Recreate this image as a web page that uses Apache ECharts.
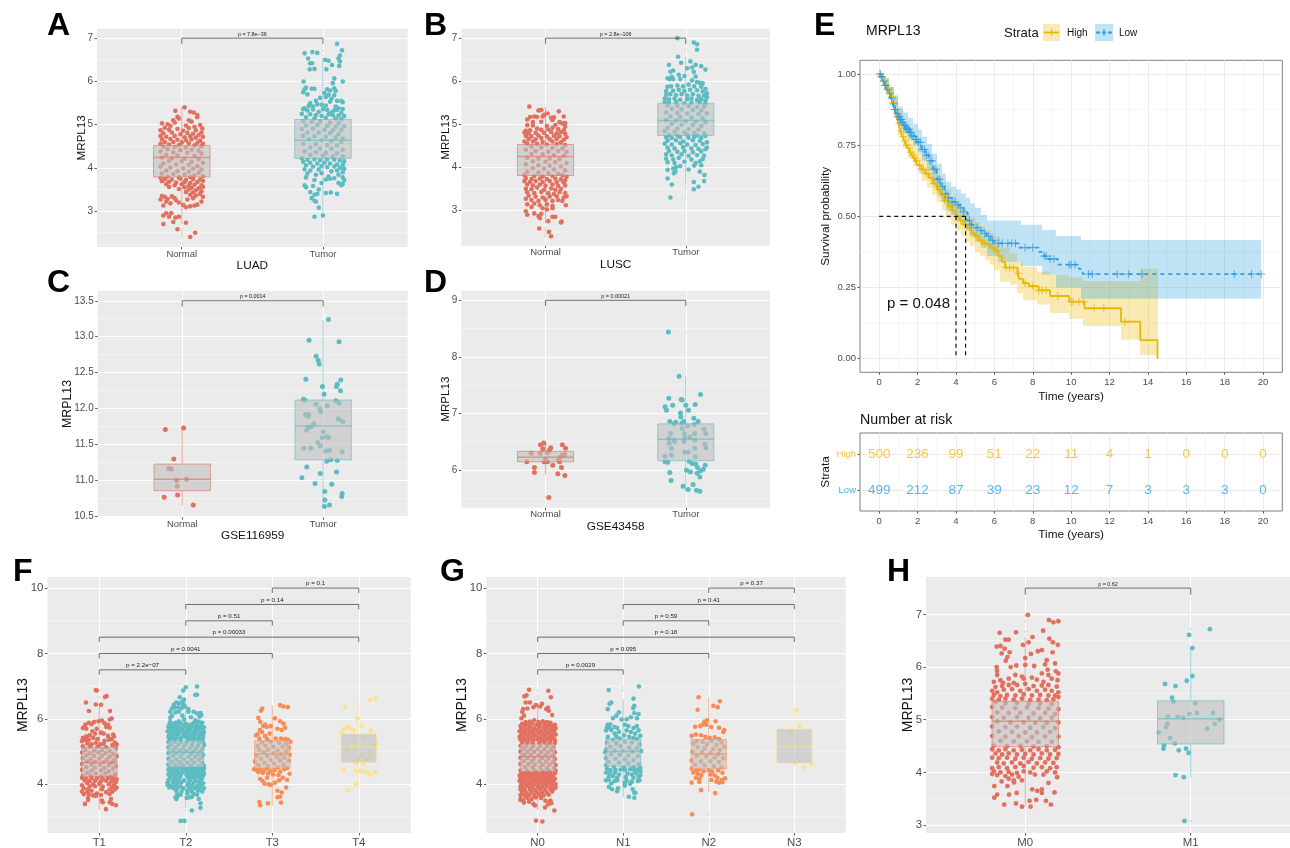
<!DOCTYPE html>
<html>
<head>
<meta charset="utf-8">
<style>
  html, body { margin: 0; padding: 0; background: #fff; }
  #main { width: 1290px; height: 848px; }
</style>
<script src="https://cdn.jsdelivr.net/npm/echarts@6/dist/echarts.min.js"></script>
</head>
<body>
<div id="main"></div>
<script>
// groups are flat lists: jitter from the category, value, jitter, value ...
const luadNormal = [
-.045,5.32,.02,5.4,.06,5.3,.085,5.28,.11,5.22,.11,5.17,-.03,5.18,-.06,5.1,-.14,5.03,-.1,5.01,.05,5.1,.07,5.07,.13,4.99,.146,4.91,-.02,5.14,-.05,5.05,.03,4.98,-.08,4.97,-.12,4.93,.09,4.95,
-.15,4.87,-.09,4.88,-.03,4.9,.01,4.86,.05,4.92,.1,4.87,.14,4.82,-.13,4.8,-.07,4.82,-.01,4.78,.04,4.81,.08,4.79,.12,4.76,.15,4.72,-.15,4.74,-.11,4.72,-.05,4.74,.02,4.71,.06,4.73,.1,4.7,
-.14,4.66,-.08,4.67,-.03,4.65,.03,4.64,.07,4.66,.13,4.63,-.12,4.6,-.06,4.6,0,4.59,.05,4.57,.11,4.58,.15,4.56,-.15,4.56,-.09,4.54,-.02,4.53,.09,4.52,.14,4.5,-.13,4.49,-.05,4.48,.03,4.47,
-.1,4.43,-.01,4.41,.07,4.42,.12,4.4,-.15,4.38,-.06,4.36,.04,4.35,.14,4.33,-.11,4.3,-.03,4.29,.09,4.28,-.14,4.24,-.07,4.22,.02,4.21,.12,4.2,-.09,4.16,0,4.15,.07,4.14,.15,4.12,-.13,4.1,
-.04,4.08,.05,4.07,.11,4.04,-.15,4.03,-.08,4.01,.01,3.99,.08,3.98,.14,3.96,-.11,3.94,-.03,3.92,.05,3.91,.12,3.89,-.14,3.87,-.06,3.86,.02,3.84,.09,3.83,.15,3.81,-.1,3.8,-.02,3.78,.06,3.79,
-.15,3.77,-.12,3.74,-.07,3.73,-.01,3.75,.03,3.72,.08,3.74,.13,3.73,.15,3.7,-.14,3.69,-.09,3.68,-.04,3.66,.02,3.67,.06,3.65,.11,3.67,-.11,3.62,-.05,3.6,0,3.62,.05,3.59,.09,3.61,.14,3.6,
-.09,3.56,.02,3.55,.07,3.54,.12,3.53,.15,3.56,-.02,3.51,.05,3.5,.1,3.48,.14,3.46,.03,3.44,.08,3.43,.13,3.4,-.14,3.35,-.12,3.33,-.07,3.34,.06,3.38,.1,3.36,.15,3.33,-.1,3.28,-.05,3.3,
-.15,3.27,-.11,3.22,-.08,3.18,-.04,3.25,.04,3.27,.08,3.3,.14,3.22,-.13,3.13,-.02,3.2,.01,3.14,.03,3.09,.06,3.11,.09,3.13,.11,3.15,-.11,2.95,-.075,2.95,-.13,2.9,-.09,2.87,-.045,2.85,-.02,2.87,
-.06,2.75,.03,2.73,-.13,2.7,-.03,2.58,.095,2.5,.06,2.4];
const luadTumor = [
.1,6.87,.135,6.72,.12,6.6,-.13,6.65,-.075,6.68,-.04,6.66,-.105,6.53,.04,6.48,.016,6.5,.11,6.53,.12,6.46,-.09,6.42,-.077,6.42,.064,6.38,.115,6.36,-.094,6.28,-.06,6.29,.024,6.28,.08,6.07,.14,6,
-.137,6,.07,5.96,-.13,5.82,-.12,5.86,-.08,5.83,-.06,5.83,.03,5.82,.05,5.79,.08,5.84,.09,5.78,-.14,5.75,-.11,5.7,.01,5.73,.04,5.69,.02,5.64,.08,5.68,.13,5.55,.14,5.52,.06,5.6,-.02,5.62,
-.05,5.55,-.09,5.5,.1,5.55,.05,5.53,-.13,5.38,-.1,5.44,-.07,5.42,-.04,5.47,-.01,5.46,.02,5.44,.09,5.42,.11,5.38,.14,5.36,-.14,5.36,-.11,5.33,-.07,5.35,-.03,5.3,0,5.36,.03,5.34,.06,5.28,
.08,5.33,.1,5.34,.13,5.27,-.15,5.25,-.09,5.24,-.05,5.22,-.01,5.2,.04,5.24,.07,5.22,.11,5.21,.15,5.2,-.12,5.17,-.06,5.15,.02,5.16,.09,5.14,.13,5.13,-.14,5.08,-.08,5.06,-.02,5.07,.05,5.05,
.11,5.03,-.12,4.98,-.04,4.99,.03,4.97,.09,4.95,.15,4.96,-.15,4.9,-.07,4.91,.01,4.88,.07,4.87,.13,4.88,-.11,4.82,-.03,4.82,.05,4.8,.11,4.78,-.14,4.74,-.06,4.73,.02,4.72,.09,4.7,.14,4.68,
-.1,4.66,-.01,4.64,.06,4.62,.13,4.6,-.14,4.56,-.05,4.55,.03,4.53,.1,4.52,-.09,4.47,-.02,4.45,.06,4.44,.14,4.42,-.13,4.38,-.05,4.36,.02,4.35,.1,4.34,-.09,4.3,0,4.28,.07,4.26,.14,4.27,
-.15,4.22,-.11,4.19,-.06,4.2,-.02,4.18,.03,4.2,.08,4.19,.12,4.17,.15,4.15,-.14,4.14,-.09,4.12,-.04,4.1,.01,4.12,.05,4.1,.1,4.08,.14,4.07,-.12,4.06,-.07,4.03,-.01,4.04,.03,4.02,.08,4.03,
.12,4,.15,3.98,-.13,3.97,-.09,3.94,-.03,3.96,.06,3.92,.1,3.94,.14,3.9,-.11,3.87,-.05,3.84,-.01,3.88,.04,3.8,.08,3.76,.11,3.84,.14,3.78,.15,3.72,-.12,3.78,-.06,3.72,-.01,3.65,.02,3.73,
.05,3.75,.11,3.65,.13,3.6,.14,3.63,-.13,3.6,-.12,3.55,-.07,3.58,-.03,3.5,-.09,3.44,-.06,3.38,-.04,3.4,.055,3.43,.1,3.4,.02,3.42,-.08,3.3,-.06,3.24,-.05,3.22,-.03,3.08,-.06,2.87,0,2.9];
const luscNormal = [
-.115,5.41,-.05,5.32,-.04,5.33,-.03,5.33,.095,5.3,.015,5.25,-.01,5.22,.04,5.15,.06,5.16,.13,5.18,-.13,5.11,-.11,5.17,-.08,5.18,-.06,5.17,-.02,5.18,.05,5.1,.1,5.05,.14,5.03,.12,5.02,-.09,5.05,
-.03,5.06,-.13,4.98,-.09,4.97,.01,4.96,.07,4.98,.14,4.94,-.14,4.85,-.11,4.86,-.06,4.9,-.03,4.87,.02,4.88,.05,4.92,.09,4.89,.13,4.86,-.15,4.81,-.12,4.79,-.07,4.8,-.01,4.8,.04,4.82,.08,4.79,
.11,4.82,.14,4.78,-.14,4.73,-.1,4.72,-.05,4.74,.01,4.72,.06,4.73,.1,4.72,.15,4.7,-.12,4.66,-.07,4.65,-.03,4.68,.03,4.65,.08,4.66,.13,4.64,-.15,4.6,-.09,4.6,-.02,4.59,.05,4.6,.11,4.58,
-.13,4.55,-.06,4.54,.01,4.53,.08,4.54,.14,4.52,-.1,4.48,-.03,4.46,.05,4.45,.12,4.44,-.14,4.41,-.07,4.38,.02,4.36,.09,4.38,.15,4.36,-.1,4.31,-.02,4.3,.06,4.28,.13,4.27,-.13,4.22,-.05,4.2,
.03,4.2,.1,4.19,-.09,4.14,0,4.13,.07,4.12,.15,4.1,-.14,4.07,-.05,4.05,.03,4.04,.11,4.02,-.09,3.98,-.01,3.97,.06,3.95,.14,3.93,-.13,3.9,-.05,3.88,.02,3.87,.09,3.85,-.15,3.82,-.08,3.8,
-.02,3.79,.05,3.8,.12,3.82,.15,3.78,-.14,3.75,-.1,3.73,-.04,3.74,.01,3.73,.07,3.74,.11,3.72,.14,3.7,-.15,3.68,-.11,3.66,-.07,3.68,-.02,3.66,.03,3.68,.08,3.66,.13,3.65,-.13,3.6,-.09,3.58,
-.04,3.6,0,3.57,.05,3.6,.09,3.57,.14,3.58,-.14,3.5,-.1,3.49,-.06,3.53,-.01,3.48,.04,3.51,.07,3.48,.11,3.5,-.13,3.42,-.08,3.4,-.03,3.43,.02,3.4,.06,3.38,.1,3.42,.14,3.4,.15,3.33,
-.12,3.34,-.07,3.32,-.02,3.3,.03,3.32,.08,3.33,.13,3.3,-.14,3.27,-.1,3.24,-.05,3.22,0,3.25,.05,3.22,.09,3.24,.12,3.22,-.13,3.14,-.08,3.16,-.04,3.12,.01,3.14,.05,3.1,.145,3.12,-.1,3.08,
-.02,3.05,.01,3.02,.05,3.05,-.14,2.98,-.13,2.9,-.08,2.93,-.03,2.92,-.05,2.87,.05,2.85,.07,2.85,.11,2.72,.115,2.74,.02,2.75,-.04,2.82,-.045,2.58,.025,2.5,.04,2.4];
const luscTumor = [
-.06,7,.057,6.9,.08,6.86,.08,6.73,-.055,6.57,-.033,6.43,-.12,6.38,.033,6.46,.07,6.38,.11,6.35,.01,6.3,.045,6.32,.14,6.27,-.11,6.22,-.09,6.25,.057,6.22,-.13,6.07,-.115,6.05,-.05,6.15,.07,6.11,
-.1,6.1,-.09,6.05,-.04,6.05,-.01,6.12,.045,6.02,.1,5.96,.12,5.95,.08,5.98,-.13,5.87,-.105,5.88,-.06,5.9,-.02,5.88,.02,5.92,.06,5.88,.11,5.87,.14,5.82,-.14,5.77,-.09,5.78,-.05,5.8,-.01,5.77,
.03,5.8,.08,5.79,.12,5.76,.15,5.72,-.14,5.68,-.11,5.7,-.07,5.68,-.03,5.7,.01,5.67,.05,5.7,.09,5.66,.13,5.67,.15,5.63,-.15,5.6,-.12,5.58,-.08,5.6,-.04,5.57,.01,5.58,.04,5.6,.08,5.56,
.11,5.59,.14,5.55,-.15,5.52,-.12,5.5,-.07,5.52,-.01,5.49,.04,5.5,.1,5.51,.14,5.48,-.13,5.44,-.06,5.43,.02,5.42,.08,5.4,.13,5.41,-.1,5.36,-.03,5.35,.05,5.33,.11,5.32,-.14,5.28,-.06,5.26,
.01,5.25,.09,5.24,.15,5.25,-.11,5.18,-.04,5.17,.04,5.16,.12,5.14,-.14,5.1,-.07,5.08,0,5.07,.07,5.06,.14,5.05,-.1,5.01,-.03,4.99,.05,4.98,.11,4.96,-.13,4.92,-.06,4.9,.02,4.89,.09,4.88,
-.15,4.84,-.08,4.82,-.01,4.81,.06,4.8,.13,4.79,-.12,4.75,-.06,4.74,.01,4.76,.08,4.74,.14,4.73,-.14,4.7,-.1,4.68,-.04,4.7,.02,4.69,.06,4.71,.11,4.68,-.13,4.62,-.07,4.63,-.02,4.6,.05,4.63,
.1,4.62,.15,4.58,-.15,4.55,-.1,4.53,-.04,4.56,.01,4.53,.07,4.52,.12,4.54,-.13,4.46,-.08,4.44,-.02,4.47,.04,4.44,.09,4.43,.15,4.46,.14,4.42,-.12,4.38,-.06,4.36,-.01,4.38,.05,4.35,.11,4.37,
-.14,4.3,-.1,4.28,-.03,4.3,.02,4.27,.08,4.28,.13,4.27,-.14,4.2,-.09,4.18,-.05,4.22,.04,4.18,.12,4.19,-.13,4.12,-.08,4.1,-.01,4.13,.07,4.1,.1,4.14,.11,4.05,.06,4.04,-.07,4,-.04,4.03,-.09,3.97,
-.13,3.94,-.085,3.86,-.074,3.9,.02,3.95,.1,3.9,-.13,3.74,-.1,3.6,.057,3.66,.057,3.49,.09,3.55,.13,3.68,.133,3.82,-.11,3.3];
const gseNormal = [
-.12,11.71,.01,11.73,-.06,11.3,-.095,11.17,-.078,11.16,-.04,11,.03,11.02,-.035,10.92,-.033,10.8,-.128,10.77,.078,10.66];
const gseTumor = [
.038,13.24,-.1,12.95,.113,12.93,-.05,12.73,-.035,12.67,-.028,12.62,-.123,12.41,.125,12.4,.1,12.34,.095,12.31,-.005,12.31,.123,12.25,.007,12.2,-.14,12.13,-.13,12.12,.09,12.11,.113,12.08,-.052,12.06,.03,12.04,-.024,12,
-.017,11.96,-.125,11.92,-.104,11.92,-.106,11.89,.106,11.86,.113,11.85,.14,11.82,-.066,11.79,-.085,11.75,-.106,11.74,-.118,11.7,0,11.68,-.007,11.6,.024,11.61,.038,11.6,-.038,11.53,-.019,11.48,-.137,11.45,-.087,11.45,.019,11.41,
.045,11.42,.135,11.4,.026,11.27,.054,11.29,.1,11.28,-.116,11.19,-.021,11.1,.095,11.12,-.151,11.04,-.057,10.96,.061,10.95,.012,10.85,.135,10.82,.132,10.78,.012,10.73,.009,10.64,.045,10.66];
const gse2Normal = [
-.012,6.48,-.036,6.45,.12,6.45,.143,6.39,.038,6.4,.029,6.36,-.019,6.38,-.102,6.3,-.038,6.3,.014,6.31,.136,6.28,.119,6.27,.105,6.23,.093,6.18,-.133,6.15,0,6.19,-.01,6.15,.014,6.15,.1,6.15,.052,6.09,
.114,6.05,-.079,6.05,-.079,5.96,.088,5.94,.138,5.91,.024,5.52];
const gse2Tumor = [
-.124,8.44,-.048,7.66,.105,7.34,-.121,7.27,-.033,7.25,-.026,7.24,.067,7.16,-.093,7.15,0,7.15,-.148,7.12,-.138,7.06,.019,7.06,-.038,7.01,.057,6.92,-.036,6.94,-.114,6.86,-.071,6.85,.088,6.86,-.014,6.86,-.029,6.83,
-.083,6.82,.06,6.81,.012,6.78,.129,6.73,-.026,6.74,-.01,6.65,-.107,6.65,.064,6.65,.143,6.65,-.121,6.56,-.007,6.59,.029,6.59,-.083,6.53,-.079,6.51,.064,6.53,-.012,6.51,-.119,6.48,.136,6.46,.143,6.4,-.102,6.39,
-.007,6.32,.017,6.32,.064,6.39,-.102,6.27,-.148,6.25,.067,6.24,-.148,6.15,-.129,6.14,.024,6.16,.045,6.12,.071,6.11,.138,6.09,.083,6.05,.124,6.02,.005,6,.033,5.97,.105,5.99,.081,5.95,-.114,5.96,.1,5.88,
-.105,5.82,.052,5.75,-.019,5.72,.017,5.66,.076,5.65,.1,5.63];
const t1Group = [
-.04,6.88,-.03,6.87,.085,6.7,.066,6.67,-.154,6.5,-.04,6.44,.02,6.43,-.12,6.24,.124,6.24,.143,6.01,.12,5.98,-.01,5.93,-.06,5.91,.03,5.95,-.16,5.83,-.17,5.76,-.12,5.88,-.09,5.84,.06,5.87,.1,5.82,
-.19,5.72,-.15,5.7,.08,5.75,.12,5.73,-.03,5.7,-.08,5.62,.02,5.58,.05,5.55,.16,5.52,.17,5.46,-.19,5.42,-.15,5.47,-.11,5.5,-.05,5.55,.1,5.48,.14,5.38,-.2,5.32,-.16,5.36,-.12,5.36,-.07,5.42,
-.02,5.38,.06,5.33,.11,5.36,.18,5.28,.2,5.22,-.14,5.25,-.09,5.22,-.04,5.27,.01,5.22,.05,5.24,.15,5.2,-.19,5.16,-.11,5.14,-.02,5.15,.08,5.13,.19,5.1,-.16,5.05,-.06,5.03,.03,5.05,.12,5.02,
-.2,4.97,-.11,4.95,-.01,4.97,.07,4.95,.16,4.93,-.15,4.88,-.06,4.87,.03,4.87,.12,4.85,.2,4.86,-.19,4.8,-.1,4.77,0,4.78,.09,4.76,.17,4.74,-.14,4.7,-.05,4.69,.05,4.68,.14,4.66,-.2,4.62,
-.09,4.6,.01,4.59,.11,4.58,.19,4.56,-.15,4.52,-.05,4.51,.06,4.5,.16,4.48,-.2,4.44,-.09,4.42,.02,4.42,.11,4.4,-.14,4.35,-.04,4.33,.07,4.33,.18,4.31,-.19,4.27,-.1,4.26,.02,4.25,.13,4.24,
-.2,4.2,-.15,4.17,-.09,4.19,-.03,4.18,.04,4.17,.1,4.19,.16,4.17,.2,4.15,-.17,4.12,-.11,4.1,-.05,4.11,.02,4.09,.08,4.11,.14,4.09,.19,4.06,-.14,4.03,-.07,4.01,0,4.02,.11,4,.17,3.98,
-.2,3.97,-.11,3.94,-.05,3.94,.04,3.93,.15,3.92,.2,3.9,-.18,3.88,-.13,3.85,.03,3.85,.12,3.84,.18,3.84,-.2,3.78,-.14,3.76,-.09,3.8,-.03,3.72,.08,3.76,.15,3.77,-.18,3.7,-.12,3.68,-.07,3.66,
-.04,3.64,.02,3.67,.12,3.7,-.13,3.58,-.166,3.4,-.13,3.52,.077,3.24,.193,3.36,.12,3.45,.04,3.45,.135,3.55,.03,3.5,.15,3.4];
const t2Group = [
.13,6.99,0,6.97,-.03,6.87,.11,6.74,.13,6.74,-.07,6.66,-.02,6.59,-.14,6.43,-.04,6.53,-.11,6.5,-.08,6.48,-.03,6.45,-.13,6.35,-.16,6.32,-.09,6.35,-.05,6.33,-.01,6.38,.03,6.3,-.18,6.22,-.12,6.2,
-.08,6.22,.03,6.22,.09,6.22,.17,6.18,.13,6.17,-.18,6.03,-.16,6.1,-.04,6.1,.06,6.05,.16,6.07,.18,6.12,-.02,5.98,-.12,5.88,-.18,5.9,-.08,5.93,.11,5.96,.15,5.92,.19,5.88,-.19,5.83,-.15,5.84,
-.1,5.82,-.05,5.86,0,5.85,.05,5.82,.09,5.87,.13,5.84,.18,5.8,-.2,5.76,-.16,5.75,-.12,5.78,-.07,5.74,-.02,5.77,.03,5.74,.07,5.77,.12,5.76,.16,5.74,.21,5.74,-.19,5.68,-.14,5.67,-.09,5.69,
-.04,5.67,.01,5.66,.05,5.68,.1,5.66,.14,5.68,.19,5.66,-.21,5.62,-.17,5.6,-.12,5.6,-.07,5.61,-.02,5.58,.03,5.6,.08,5.58,.12,5.6,.17,5.58,.21,5.6,-.19,5.53,-.14,5.52,-.09,5.53,-.03,5.5,
.02,5.52,.06,5.5,.11,5.52,.16,5.5,.2,5.52,-.2,5.45,-.16,5.44,-.1,5.45,-.05,5.43,0,5.45,.05,5.42,.1,5.44,.15,5.43,.2,5.44,-.18,5.38,-.12,5.38,-.06,5.37,.03,5.37,.09,5.38,.14,5.36,.19,5.37,
-.2,5.3,-.13,5.3,-.06,5.28,.01,5.27,.08,5.28,.15,5.27,.2,5.28,-.17,5.21,-.09,5.2,-.01,5.2,.07,5.19,.14,5.18,.21,5.2,-.2,5.13,-.12,5.12,-.03,5.11,.05,5.11,.12,5.1,.19,5.09,-.15,5.04,
-.07,5.03,.01,5.02,.09,5.01,.17,5,-.2,4.96,-.11,4.94,-.03,4.94,.06,4.93,.14,4.92,.2,4.9,-.15,4.87,-.06,4.85,.03,4.84,.11,4.84,.18,4.82,-.2,4.78,-.11,4.76,-.02,4.76,.07,4.75,.15,4.74,
-.16,4.69,-.07,4.67,.02,4.66,.1,4.66,.19,4.65,-.2,4.6,-.12,4.59,-.03,4.58,.06,4.58,.15,4.56,.21,4.56,-.18,4.52,-.13,4.49,-.08,4.51,-.03,4.5,.02,4.49,.07,4.51,.12,4.49,.17,4.5,.21,4.48,
-.2,4.45,-.15,4.43,-.1,4.44,-.04,4.42,.01,4.44,.05,4.42,.1,4.43,.15,4.41,.2,4.42,-.19,4.37,-.13,4.35,-.08,4.37,-.03,4.36,.03,4.35,.08,4.36,.13,4.34,.18,4.36,.21,4.33,-.2,4.29,-.16,4.28,
-.11,4.29,-.06,4.27,.01,4.28,.06,4.26,.11,4.28,.16,4.26,.2,4.27,-.18,4.21,-.12,4.2,-.07,4.21,.03,4.2,.09,4.19,.14,4.21,.19,4.19,-.2,4.13,-.14,4.12,-.09,4.14,-.02,4.12,.05,4.13,.11,4.11,
.17,4.12,-.21,4.05,-.15,4.06,-.1,4.03,-.05,4.06,.03,4.05,.09,4.04,.15,4.05,.2,4.03,-.21,3.98,-.17,3.95,-.12,3.97,-.06,3.94,.02,3.96,.07,3.97,.13,3.94,.18,3.96,-.19,3.9,-.14,3.88,-.09,3.9,
-.03,3.88,.05,3.87,.1,3.88,.16,3.86,.21,3.88,-.11,3.8,-.05,3.78,.02,3.81,.07,3.78,.14,3.8,.19,3.78,-.1,3.7,-.06,3.68,.02,3.72,.09,3.71,.13,3.68,-.11,3.55,-.1,3.62,-.12,3.6,.01,3.58,.05,3.6,
.07,3.62,.15,3.55,.17,3.42,.17,3.28,.07,3.2,-.06,2.88,-.015,2.88];
const t3Group = [
.09,6.42,.127,6.38,.18,6.36,-.116,6.32,-.131,6.25,-.162,6.03,-.139,5.91,-.085,5.83,-.066,5.75,-.104,5.78,.147,5.73,.108,5.66,-.143,5.66,-.17,5.53,-.189,5.5,-.085,5.48,.03,6.02,.09,5.93,.13,5.86,-.02,5.78,
.06,5.7,-.12,5.6,-.03,5.55,.1,5.4,.15,5.38,.18,5.36,.04,5.4,-.06,5.38,-.15,5.4,.21,5.3,-.12,5.28,-.02,5.3,.08,5.27,.16,5.25,-.17,5.17,-.08,5.18,.01,5.15,.12,5.15,.19,5.12,-.15,5.05,
-.05,5.06,.06,5.03,.16,5,-.1,4.98,.01,4.95,.1,4.92,.2,4.9,-.18,4.88,-.06,4.87,.05,4.83,.14,4.82,-.13,4.78,-.02,4.75,.09,4.73,.19,4.72,-.2,4.7,-.09,4.66,.02,4.63,.13,4.6,-.16,4.58,-.05,4.55,
.07,4.52,.17,4.5,-.21,4.46,-.18,4.43,-.14,4.45,-.1,4.42,-.06,4.48,-.02,4.4,.03,4.44,.09,4.38,.14,4.46,-.16,4.37,-.11,4.35,-.05,4.33,.01,4.3,.07,4.28,.2,4.32,.12,4.2,.17,4.14,-.14,4.16,
-.11,4.1,-.09,4.02,-.04,4,-.02,3.98,.03,4.05,.08,4.12,.16,3.9,-.06,4.2,.06,3.8,.11,3.75,.06,3.6,.09,3.62,.1,3.44,-.15,3.46,-.14,3.36,-.05,3.42];
const t4Group = [
-.158,6.37,.131,6.58,.197,6.62,-.015,6.01,.031,5.79,.139,5.65,-.124,5.76,-.178,5.68,-.1,5.71,-.054,5.65,-.197,5.58,.054,5.43,-.062,5.3,.208,5.23,.17,5.18,-.139,5.08,-.046,5.06,.131,4.93,.035,4.88,-.139,4.98,
-.008,4.78,.093,4.77,-.03,4.65,.054,4.62,-.178,4.44,-.039,4.41,.015,4.41,.069,4.39,.112,4.35,.131,4.29,.189,4.37,-.039,4,-.12,3.82];
const n0Group = [
-.1,6.89,.125,6.86,.155,6.66,-.13,6.72,-.155,6.69,-.09,6.5,-.14,6.5,-.02,6.42,.05,6.46,-.17,6.3,.1,6.3,.13,6.25,.12,6.35,-.18,6.22,-.12,6.32,.03,6.38,-.05,6.36,.17,6.12,-.16,6.1,-.19,6.02,
-.18,5.85,-.14,5.9,-.09,5.92,-.04,5.96,.01,5.9,.06,5.93,.11,5.9,.15,5.88,.2,5.82,-.2,5.78,-.15,5.8,-.11,5.82,-.06,5.85,-.01,5.82,.03,5.84,.08,5.83,.13,5.8,.18,5.78,.21,5.72,-.19,5.7,-.14,5.72,
-.09,5.74,-.04,5.72,.02,5.74,.07,5.72,.11,5.74,.16,5.7,.2,5.68,-.21,5.62,-.16,5.62,-.11,5.64,-.06,5.63,-.01,5.65,.04,5.62,.09,5.64,.14,5.62,.19,5.6,-.19,5.54,-.14,5.54,-.09,5.55,-.04,5.53,
.01,5.56,.06,5.53,.11,5.55,.16,5.52,.21,5.52,-.21,5.45,-.17,5.44,-.12,5.46,-.07,5.44,-.02,5.46,.03,5.44,.08,5.46,.13,5.43,.18,5.44,-.2,5.37,-.15,5.36,-.1,5.37,-.05,5.35,0,5.37,.05,5.35,
.1,5.37,.15,5.35,.2,5.35,-.18,5.28,-.12,5.28,-.06,5.27,.02,5.28,.08,5.27,.14,5.26,.2,5.26,-.2,5.18,-.13,5.18,-.05,5.17,.03,5.17,.11,5.16,.18,5.15,-.16,5.09,-.08,5.08,0,5.08,.08,5.07,
.16,5.06,-.2,5,-.12,4.99,-.04,4.99,.04,4.98,.12,4.97,.2,4.98,-.16,4.9,-.08,4.9,.01,4.89,.09,4.89,.17,4.88,-.2,4.81,-.12,4.8,-.04,4.79,.05,4.8,.13,4.79,.2,4.78,-.16,4.71,-.07,4.7,.02,4.7,
.1,4.7,.18,4.69,-.2,4.62,-.11,4.61,-.03,4.6,.06,4.6,.14,4.6,.21,4.59,-.15,4.52,-.06,4.51,.03,4.51,.11,4.5,.19,4.49,-.2,4.42,-.12,4.41,-.03,4.42,.06,4.41,.14,4.4,.21,4.41,-.19,4.35,-.15,4.33,
-.1,4.35,-.05,4.33,0,4.35,.05,4.33,.1,4.35,.15,4.33,.2,4.34,-.21,4.27,-.17,4.25,-.12,4.27,-.07,4.25,-.02,4.27,.03,4.25,.08,4.26,.13,4.25,.18,4.26,-.2,4.18,-.15,4.17,-.1,4.19,-.05,4.17,
0,4.18,.05,4.17,.1,4.18,.15,4.16,.2,4.17,-.21,4.1,-.17,4.08,-.12,4.1,-.07,4.08,-.02,4.1,.03,4.09,.08,4.1,.13,4.08,.18,4.09,-.19,4.01,-.14,4,-.09,4.02,-.04,4,.01,4.01,.06,4,.11,4.02,.16,4,
.21,4.01,-.2,3.93,-.16,3.91,-.11,3.93,-.06,3.91,0,3.92,.05,3.91,.1,3.93,.15,3.91,.2,3.92,-.2,3.84,-.15,3.83,-.09,3.84,-.03,3.82,.03,3.84,.09,3.83,.15,3.85,.19,3.87,.21,3.9,-.18,3.76,-.13,3.74,
-.07,3.76,-.01,3.75,.05,3.76,.11,3.74,.17,3.78,-.2,3.67,-.15,3.65,-.1,3.67,-.04,3.66,.02,3.68,.07,3.66,.13,3.68,-.2,3.55,-.17,3.52,-.12,3.58,-.07,3.55,-.02,3.6,.04,3.58,.09,3.5,-.16,3.44,
-.1,3.47,-.05,3.4,-.03,3.35,.14,3.47,.16,3.42,.12,3.38,.15,3.5,-.2,3.52,.086,3.29,.195,3.2,-.02,2.89,.055,2.86];
const n1Group = [
.183,6.99,-.17,6.88,.12,6.62,-.14,6.5,-.16,6.46,-.18,6.3,.13,6.4,.117,6.33,-.05,6.2,.18,6.15,.13,6.18,-.08,6.1,-.12,6.02,-.02,5.98,.04,5.99,.16,6.02,.09,6.05,-.18,5.82,-.19,5.75,-.16,5.73,
-.15,5.83,-.1,5.75,-.07,5.72,.02,5.82,.06,5.78,.12,5.72,.16,5.78,.18,5.65,-.2,5.65,-.14,5.66,-.05,5.6,.04,5.65,.09,5.6,-.1,5.55,.14,5.55,.2,5.48,-.18,5.45,-.08,5.46,.01,5.5,.07,5.45,.12,5.42,
-.12,5.36,-.04,5.4,.16,5.38,-.19,5.28,-.08,5.25,.02,5.3,.1,5.27,.19,5.22,-.15,5.15,-.03,5.16,.07,5.12,.16,5.1,-.2,5.06,-.1,5.03,0,5.02,.11,5,.21,5.02,-.21,4.98,-.14,4.92,-.04,4.9,.06,4.88,
.17,4.86,-.2,4.8,-.09,4.78,.02,4.76,.12,4.74,-.17,4.68,-.05,4.66,.06,4.64,.18,4.62,-.2,4.58,-.11,4.54,.01,4.52,.12,4.52,.2,4.5,-.19,4.48,-.15,4.43,-.09,4.44,-.03,4.45,.02,4.44,.08,4.46,
.13,4.42,.17,4.45,.2,4.4,-.2,4.36,-.16,4.33,-.1,4.35,-.05,4.3,.05,4.33,.1,4.3,.15,4.33,.2,4.28,-.17,4.22,-.12,4.25,-.07,4.2,.03,4.22,.12,4.2,.18,4.22,-.2,4.12,-.17,4.15,-.1,4.1,-.07,4.12,
.04,4.12,.1,4.08,.17,4.1,.19,4.12,-.14,4.03,.02,4.05,.08,4.02,.02,3.96,-.167,3.92,-.13,3.85,-.07,3.79,.13,3.59,.066,3.62,.144,3.74,-.06,3.88,.11,3.85,.13,3.74];
const n2Group = [
-.12,6.66,.13,6.54,.054,6.4,.105,6.36,-.13,6.28,-.02,5.96,-.05,5.92,.08,5.93,-.07,5.83,-.1,5.78,-.03,5.82,.12,5.73,-.16,5.76,.03,5.75,.18,5.66,.17,5.6,-.2,5.48,-.15,5.52,-.09,5.5,-.04,5.45,
.01,5.42,.07,5.44,.12,5.38,-.14,5.32,-.07,5.3,.03,5.33,.15,5.28,-.18,5.25,-.02,5.22,.09,5.2,.18,5.15,-.13,5.13,-.05,5.1,.05,5.08,.13,5.05,-.19,5,-.08,4.98,.02,4.95,.11,4.93,-.14,4.87,
-.03,4.85,.07,4.82,.17,4.8,-.2,4.73,-.09,4.7,.02,4.7,.12,4.68,-.16,4.6,-.05,4.58,.06,4.55,.15,4.52,-.2,4.48,-.15,4.42,-.11,4.45,-.06,4.4,0,4.43,.04,4.38,.11,4.42,.16,4.35,-.18,4.36,-.13,4.32,
-.09,4.28,.02,4.3,.07,4.27,.1,4.2,.15,4.13,.19,4.18,-.15,4.2,-.11,4.16,.03,4.13,.09,4.08,.12,4.05,.16,4.06,-.2,4.05,-.11,4.07,-.09,3.82,.074,3.73,-.195,3.08];
const n3Group = [
.023,6.27,.062,5.79,-.04,5.61,.054,5.13,.008,4.65,.198,4.62,.117,4.52];
const m0Group = [
.016,6.99,.143,6.89,.17,6.85,.2,6.87,-.155,6.65,-.056,6.66,.108,6.69,.044,6.57,-.12,6.52,-.1,6.52,.145,6.54,.167,6.47,.197,6.42,.02,6.47,-.014,6.42,-.173,6.39,-.15,6.4,-.125,6.35,-.094,6.28,-.143,6.26,
.034,6.25,.076,6.3,.1,6.32,.165,6.28,-.108,6.19,-.118,6.12,0,6.17,.13,6.13,.18,6.07,-.088,6,-.173,6,-.054,6.03,0,6.04,.054,6.02,.12,6.05,.135,5.95,-.17,5.93,-.06,5.85,-.02,5.82,.04,5.8,
.1,5.88,.14,5.85,.185,5.92,.2,5.88,-.17,5.85,-.19,5.72,-.15,5.75,-.135,5.7,-.1,5.78,-.07,5.7,-.01,5.78,.07,5.76,.11,5.72,.16,5.78,.195,5.75,-.18,5.62,-.14,5.64,-.1,5.66,-.05,5.66,0,5.68,
.05,5.64,.1,5.65,.14,5.66,.19,5.63,-.2,5.55,-.17,5.52,-.13,5.57,-.08,5.58,-.03,5.55,.02,5.58,.07,5.55,.12,5.57,.16,5.55,.2,5.52,-.19,5.47,-.15,5.45,-.11,5.47,-.06,5.46,-.01,5.48,.04,5.46,
.09,5.47,.14,5.46,.18,5.46,.2,5.43,-.2,5.4,-.16,5.38,-.12,5.4,-.07,5.38,-.02,5.4,.03,5.37,.08,5.38,.13,5.37,.17,5.39,-.18,5.33,-.12,5.31,-.05,5.32,.02,5.3,.09,5.31,.16,5.3,-.2,5.24,-.14,5.23,
-.06,5.22,.01,5.23,.08,5.22,.14,5.21,.2,5.2,-.17,5.14,-.1,5.13,-.03,5.13,.05,5.12,.12,5.13,.18,5.11,-.2,5.05,-.13,5.04,-.05,5.05,.02,5.04,.09,5.03,.16,5.04,-.17,4.97,-.09,4.95,-.01,4.95,
.06,4.94,.13,4.94,.2,4.95,-.2,4.87,-.12,4.86,-.05,4.87,.03,4.85,.11,4.86,.18,4.84,-.16,4.78,-.08,4.77,0,4.76,.07,4.76,.15,4.77,-.2,4.69,-.12,4.68,-.04,4.69,.04,4.67,.12,4.68,.2,4.68,-.15,4.6,
-.07,4.59,.01,4.59,.08,4.58,.16,4.58,-.19,4.51,-.11,4.5,-.03,4.51,.05,4.49,.13,4.5,.2,4.48,-.2,4.44,-.16,4.42,-.12,4.44,-.07,4.42,-.02,4.43,.03,4.42,.08,4.44,.13,4.42,.18,4.43,-.18,4.36,
-.14,4.34,-.1,4.36,-.05,4.34,0,4.35,.05,4.34,.1,4.36,.15,4.34,.2,4.35,-.2,4.28,-.16,4.27,-.11,4.28,-.06,4.26,-.01,4.28,.04,4.26,.09,4.27,.14,4.26,.19,4.27,-.17,4.19,-.13,4.17,-.08,4.19,
-.03,4.17,.02,4.2,.07,4.17,.12,4.19,.17,4.18,-.2,4.08,-.16,4.1,-.11,4.08,-.06,4.1,-.01,4.12,.05,4.09,.1,4.1,.15,4.08,.19,4.1,-.19,4.02,-.15,4,-.1,4.01,-.05,3.99,-.01,4.02,.03,4,.13,4.02,
.18,4,-.2,3.97,-.17,3.95,-.12,3.93,-.08,3.96,-.04,3.92,.058,3.96,.11,3.96,.193,3.91,-.1,3.88,-.07,3.85,-.02,3.85,-.143,3.83,-.068,3.81,.14,3.8,-.187,3.74,-.108,3.74,.042,3.68,.072,3.65,
.1,3.61,.177,3.62,-.098,3.58,-.052,3.61,-.17,3.58,-.187,3.52,.1,3.68,-.127,3.39,-.056,3.41,-.02,3.35,.032,3.35,.026,3.46,.066,3.48,.125,3.46,.155,3.39];
const m1Group = [
.116,6.72,-.01,6.61,.01,6.36,.01,5.83,-.024,5.74,-.155,5.68,-.092,5.64,-.113,5.42,-.104,5.34,.028,5.31,.038,5.13,.135,5.13,-.008,5.11,-.139,5.06,-.078,5.06,-.046,5.04,.173,5,-.141,4.92,.145,4.92,-.149,4.86,
.1,4.83,-.193,4.76,-.124,4.65,-.096,4.55,-.161,4.51,-.165,4.45,-.028,4.45,-.072,4.42,-.012,4.37,-.092,3.95,-.042,3.91,-.038,3.08];

// survival curves
const highTimes = [0,.1,.2,.3,.4,.5,.6,.7,.8,.9,1,1.1,1.2,1.3,1.4,1.5,1.6,1.7,1.8,1.9,2,2.2,2.4,2.6,2.8,3,3.2,3.4,3.6,3.8,4,4.2,4.4,4.6,4.8,5,5.2,5.4,5.6,5.8,6,6.2,6.4,6.55,7.2,7.3,7.5,7.8,8.3,8.9,9.9,10.7,12.6,13.6,14.5,14.5];
const highSurv = [1,.99,.975,.96,.95,.935,.92,.9,.875,.85,.825,.8,.78,.765,.75,.74,.725,.715,.705,.695,.68,.665,.65,.635,.615,.595,.575,.555,.535,.52,.5,.485,.47,.46,.44,.43,.415,.405,.4,.39,.38,.36,.34,.32,.3,.28,.265,.255,.24,.22,.2,.177,.13,.065,.065,0];
const lowTimes = [0,.1,.2,.3,.4,.5,.6,.7,.8,.9,1,1.1,1.2,1.3,1.4,1.5,1.6,1.7,1.8,1.9,2,2.2,2.4,2.6,2.8,3,3.2,3.4,3.6,3.8,4,4.2,4.4,4.6,4.8,5,5.2,5.4,5.6,5.8,6,7.25,8.3,8.6,8.8,9.3,10.4,10.6,20];
const lowSurv = [1,.99,.975,.96,.945,.93,.915,.895,.875,.86,.85,.84,.83,.82,.81,.805,.795,.785,.78,.77,.76,.735,.715,.695,.665,.63,.605,.58,.565,.55,.54,.53,.515,.485,.47,.46,.45,.44,.43,.415,.405,.39,.375,.36,.35,.33,.315,.297,.297];
const highBandTimes = [0,.25,.5,.75,1,1.25,1.5,1.75,2,2.25,2.5,2.75,3,3.25,3.5,3.75,4,4.25,4.5,4.75,5,5.25,5.5,5.75,6,6.3,6.8,7.2,7.5,8.2,8.9,9.9,10.6,12.6,13.6,14.5];
const highBandLower = [.99,.955,.915,.855,.785,.74,.705,.675,.65,.625,.6,.575,.55,.52,.495,.47,.45,.43,.41,.395,.375,.36,.345,.33,.31,.27,.26,.23,.205,.19,.16,.14,.115,.066,.013];
const highBandUpper = [1,.985,.955,.92,.875,.825,.79,.765,.74,.715,.695,.67,.64,.62,.595,.57,.55,.53,.515,.495,.48,.465,.45,.44,.43,.39,.37,.34,.323,.306,.294,.285,.273,.273,.316];
const lowBandTimes = [0,.25,.5,.75,1,1.25,1.5,1.75,2,2.25,2.5,2.75,3,3.25,3.5,3.75,4,4.25,4.5,4.75,5,5.3,5.6,6.2,7.4,8.5,9.2,10.5,19.9];
const lowBandLower = [.99,.95,.91,.865,.82,.79,.77,.75,.725,.695,.66,.62,.58,.55,.52,.505,.49,.47,.45,.43,.41,.39,.36,.34,.325,.295,.25,.21];
const lowBandUpper = [1,.985,.955,.925,.885,.865,.845,.825,.805,.78,.755,.72,.685,.65,.62,.605,.595,.58,.565,.545,.53,.505,.485,.485,.47,.452,.431,.417];
const highCensor = [.05,.15,.25,.35,.45,.55,.65,.75,.85,.95,1.05,1.15,1.25,1.35,1.45,1.55,1.65,1.75,1.85,1.95,2.1,2.2,2.3,2.45,2.55,2.7,2.85,2.95,3.1,3.25,3.4,3.55,3.7,3.85,4.05,4.25,4.45,4.7,4.9,5.1,5.3,5.5,5.75,5.95,6.1,6.6,6.8,7,7.25,7.6,8,8.3,8.5,8.7,9.3,10,10.1,10.4,10.65,11.2,11.7,12.8];
const lowCensor = [.05,.1,.15,.25,.3,.35,.45,.55,.65,.75,.8,.85,.95,1,1.05,1.1,1.15,1.2,1.25,1.3,1.35,1.4,1.45,1.5,1.55,1.6,1.65,1.7,1.8,1.9,1.95,2.05,2.15,2.25,2.35,2.45,2.55,2.65,2.75,2.85,2.95,3.05,3.15,3.3,3.45,3.6,3.8,3.95,4.1,4.25,4.4,4.7,4.8,5.1,5.3,5.5,5.7,5.9,6.2,6.4,6.7,6.9,7.1,7.6,8,8.6,8.7,8.9,9.1,9.9,10,10.2,10.9,11.1,12.4,13,13.7,18.5,19.4,19.9];
const medianTimes = [4,4.5];
const riskTimes = [0,2,4,6,8,10,12,14,16,18,20];
const riskHigh = [500,236,99,51,22,11,4,1,0,0,0];
const riskLow = [499,212,87,39,23,12,7,3,3,3,0];

const RED = '#E2705F', TEAL = '#5CBCC2', ORANGE = '#F98C55', YELLOW = '#FDE18C';
const HIGH = '#E7B800', LOW = '#2E9FDF';
const FONT = '"Liberation Sans", Arial, sans-serif';

// box values: low whisker, q1, median, q3, high whisker; extras are the faint outlier dots
const panels = [
  { left: 97, top: 28.7, width: 310.7, height: 218.3, yMin: 2.17, yMax: 7.22, yTicks: [3,4,5,6,7], yMinor: [2.5,3.5,4.5,5.5,6.5],
    names: ['Normal','Tumor'], xName: 'LUAD', nameGap: 1, labelMargin: 2, xFont: 9.5, yFont: 10, yNameFont: 11.6, yNameGap: 9, ptSize: 4.6, boxW: .4, pFont: 5.4, tip: .13,
    groups: [{ pts: luadNormal, color: RED, box: [2.7,3.79,4.24,4.52,5.4], extras: [2.6,2.55,2.5,2.45,2.4] },
             { pts: luadTumor, color: TEAL, box: [2.87,4.22,4.64,5.12,6.55], extras: [6.6,6.72] }],
    brackets: [[1,2,7,'p = 7.8e\u221236']] },
  { left: 461.3, top: 28.7, width: 308.7, height: 217, yMin: 2.18, yMax: 7.22, yTicks: [3,4,5,6,7], yMinor: [2.5,3.5,4.5,5.5,6.5],
    names: ['Normal','Tumor'], xName: 'LUSC', nameGap: 2, labelMargin: 2, xFont: 9.5, yFont: 10, yNameFont: 11.6, yNameGap: 10, ptSize: 4.6, boxW: .4, pFont: 5.4, tip: .13,
    groups: [{ pts: luscNormal, color: RED, box: [2.7,3.81,4.25,4.53,5.4], extras: [2.6,2.55,2.5,2.45,2.4] },
             { pts: luscTumor, color: TEAL, box: [3.6,4.74,5.09,5.49,6.57], extras: [6.9,6.73,3.55,3.5,3.3] }],
    brackets: [[1,2,7,'p = 2.8e\u2212106']] },
  { left: 97.7, top: 290.7, width: 310, height: 226.6, yMin: 10.49, yMax: 13.64, yTicks: [10.5,11,11.5,12,12.5,13,13.5], yMinor: [10.75,11.25,11.75,12.25,12.75,13.25], yFixed: 1,
    names: ['Normal','Tumor'], xName: 'GSE116959', nameGap: 3, labelMargin: 2, xFont: 9.5, yFont: 10, yNameFont: 12.4, yNameGap: 24, ptSize: 5, boxW: .4, pFont: 5.4, tip: .08,
    groups: [{ pts: gseNormal, color: RED, box: [10.65,10.86,11.02,11.23,11.73], extras: [] },
             { pts: gseTumor, color: TEAL, box: [10.64,11.29,11.76,12.12,13.23], extras: [] }],
    brackets: [[1,2,13.5,'p = 0.0014']] },
  { left: 461.3, top: 290.7, width: 308.7, height: 217, yMin: 5.34, yMax: 9.17, yTicks: [6,7,8,9], yMinor: [5.5,6.5,7.5,8.5],
    names: ['Normal','Tumor'], xName: 'GSE43458', nameGap: 2, labelMargin: 2, xFont: 9.5, yFont: 10, yNameFont: 11.6, yNameGap: 10, ptSize: 5, boxW: .4, pFont: 5.4, tip: .1,
    groups: [{ pts: gse2Normal, color: RED, box: [5.92,6.15,6.23,6.335,6.48], extras: [5.52] },
             { pts: gse2Tumor, color: TEAL, box: [5.63,6.17,6.55,6.82,7.66], extras: [8.44] }],
    brackets: [[1,2,9,'p = 0.00021']] },
  { left: 47.4, top: 577, width: 363.3, height: 259.7, yMin: 2.51, yMax: 10.34, yTicks: [4,6,8,10], yMinor: [3,5,7,9],
    names: ['T1','T2','T3','T4'], xFont: 11.4, yFont: 11.4, yNameFont: 13.9, yNameGap: 17, ptSize: 4.6, boxW: .41, pFont: 6.2, tip: .15,
    groups: [{ pts: t1Group, color: RED, box: [3.22,4.24,4.67,5.13,6.38], extras: [6.87,6.66] },
             { pts: t2Group, color: TEAL, box: [3.28,4.52,4.98,5.33,6.6], extras: [6.97,6.87,3.2,2.9] },
             { pts: t3Group, color: ORANGE, box: [3.35,4.49,4.93,5.33,6.42], extras: [] },
             { pts: t4Group, color: YELLOW, box: [3.85,4.67,5.15,5.54,6.6], extras: [] }],
    brackets: [[1,2,7.5,'p = 2.2e\u221207'],[1,3,8,'p = 0.0041'],[1,4,8.5,'p = 0.00033'],[2,3,9,'p = 0.51'],[2,4,9.5,'p = 0.14'],[3,4,10,'p = 0.1']] },
  { left: 486.3, top: 577, width: 359.4, height: 259.7, yMin: 2.51, yMax: 10.34, yTicks: [4,6,8,10], yMinor: [3,5,7,9],
    names: ['N0','N1','N2','N3'], xFont: 11.4, yFont: 11.4, yNameFont: 13.9, yNameGap: 17.5, ptSize: 4.6, boxW: .41, pFont: 6.2, tip: .15,
    groups: [{ pts: n0Group, color: RED, box: [3.22,4.39,4.85,5.24,6.48], extras: [6.85,6.7,6.6,2.87] },
             { pts: n1Group, color: TEAL, box: [3.6,4.55,5,5.38,6.6], extras: [6.99,6.87] },
             { pts: n2Group, color: ORANGE, box: [3.75,4.47,4.93,5.37,6.66], extras: [3.08] },
             { pts: n3Group, color: YELLOW, box: [4.6,4.65,5.15,5.69,6.3], extras: [] }],
    brackets: [[1,2,7.5,'p = 0.0029'],[1,3,8,'p = 0.095'],[1,4,8.5,'p = 0.18'],[2,3,9,'p = 0.59'],[2,4,9.5,'p = 0.41'],[3,4,10,'p = 0.37']] },
  { left: 926, top: 577, width: 368, height: 258.7, yMin: 2.85, yMax: 7.71, yTicks: [3,4,5,6,7], yMinor: [3.5,4.5,5.5,6.5],
    names: ['M0','M1'], xFont: 11.4, yFont: 11.4, yNameFont: 14, yNameGap: 11, ptSize: 4.8, boxW: .402, pFont: 5.4, tip: .125,
    groups: [{ pts: m0Group, color: RED, box: [3.35,4.49,4.97,5.35,6.57], extras: [6.98,6.87,6.67] },
             { pts: m1Group, color: TEAL, box: [3.9,4.54,5.02,5.36,6.36], extras: [6.72,3.08] }],
    brackets: [[1,2,7.5,'p = 0.62']] }
];

function withAlpha(hex, a) {
  let n = parseInt(hex.slice(1), 16);
  return 'rgba(' + (n >> 16) + ',' + ((n >> 8) & 255) + ',' + (n & 255) + ',' + a + ')';
}

function toPoints(flat, cat) {
  let out = [];
  for (let i = 0; i < flat.length; i += 2) {
    out.push([cat + flat[i], flat[i + 1]]);
  }
  return out;
}

function stepAt(times, surv, t) {
  let s = surv[0];
  for (let i = 0; i < times.length; i++) {
    if (times[i] <= t) s = surv[i];
  }
  return s;
}

let grids = [], xAxes = [], yAxes = [], series = [];

function tickStyle() {
  return { show: true, length: 2.5, lineStyle: { color: '#333', width: 0.8 } };
}

// horizontal or vertical minor grid lines
function minorLines(index, values, vertical, color, width) {
  series.push({
    type: 'custom', xAxisIndex: index, yAxisIndex: index, z: 1, silent: true,
    data: values.map(v => vertical ? [v, 0] : [0, v]),
    encode: { x: 0, y: 1 },
    clip: false,
    renderItem(params, api) {
      let cs = params.coordSys;
      let shape;
      if (vertical) {
        let x = api.coord([api.value(0), 0])[0];
        shape = { x1: x, x2: x, y1: cs.y, y2: cs.y + cs.height };
      } else {
        let y = api.coord([0, api.value(1)])[1];
        shape = { x1: cs.x, x2: cs.x + cs.width, y1: y, y2: y };
      }
      return { type: 'line', shape: shape, style: { stroke: color, lineWidth: width } };
    }
  });
}

function addBoxPanel(p) {
  let index = grids.length;
  let cats = p.names.map((n, i) => i + 1);
  let margin = p.labelMargin || 4;
  grids.push({ left: p.left, top: p.top, width: p.width, height: p.height, show: true, backgroundColor: '#EBEBEB', borderWidth: 0 });
  xAxes.push({
    type: 'value', gridIndex: index, min: 0.4, max: p.names.length + 0.6,
    name: p.xName || '', nameLocation: 'middle', nameGap: p.xFont + (p.nameGap || 0),
    nameTextStyle: { color: '#111', fontSize: 11.8, fontFamily: FONT },
    axisLine: { show: false, onZero: false }, axisTick: Object.assign(tickStyle(), { customValues: cats }),
    axisLabel: { customValues: cats, color: '#4D4D4D', fontSize: p.xFont, fontFamily: FONT, margin: margin,
      formatter: v => p.names[Math.round(v) - 1] },
    splitLine: { show: true, lineStyle: { color: '#fff', width: 1 } }
  });
  yAxes.push({
    type: 'value', gridIndex: index, min: p.yMin, max: p.yMax,
    name: 'MRPL13', nameLocation: 'middle', nameGap: p.yNameGap, nameRotate: 90, nameMoveOverlap: false,
    nameTextStyle: { color: '#111', fontSize: p.yNameFont, fontFamily: FONT },
    axisLine: { show: false, onZero: false }, axisTick: Object.assign(tickStyle(), { customValues: p.yTicks }),
    axisLabel: { customValues: p.yTicks, color: '#4D4D4D', fontSize: p.yFont, fontFamily: FONT, margin: 4,
      formatter: v => p.yFixed ? v.toFixed(p.yFixed) : String(v) },
    splitLine: { show: true, lineStyle: { color: '#fff', width: 1 } }
  });
  minorLines(index, p.yMinor, false, '#fff', 0.5);

  p.groups.forEach((g, i) => {
    let cat = i + 1;
    series.push({
      type: 'scatter', xAxisIndex: index, yAxisIndex: index, z: 2, silent: true,
      symbolSize: p.ptSize, itemStyle: { color: g.color, opacity: 1 },
      data: toPoints(g.pts, cat)
    });
    if (g.extras.length) {
      series.push({
        type: 'scatter', xAxisIndex: index, yAxisIndex: index, z: 2, silent: true,
        symbolSize: 1.8, itemStyle: { color: withAlpha(g.color, 0.45) },
        data: g.extras.map(v => [cat, v])
      });
    }
    // grey box on top of the jitter, same as the ggplot alpha box
    series.push({
      type: 'custom', xAxisIndex: index, yAxisIndex: index, z: 3, silent: true,
      data: [[cat].concat(g.box)],
      encode: { x: 0, y: [1, 2, 3, 4, 5] },
      renderItem(params, api) {
        let c = api.value(0), half = p.boxW / 2;
        let lo = api.coord([c, api.value(1)]), q1 = api.coord([c, api.value(2)]);
        let med = api.coord([c, api.value(3)]), q3 = api.coord([c, api.value(4)]);
        let hi = api.coord([c, api.value(5)]);
        let xl = api.coord([c - half, 0])[0], xr = api.coord([c + half, 0])[0];
        let stroke = withAlpha(g.color, 0.6);
        return {
          type: 'group', children: [
            { type: 'line', shape: { x1: lo[0], y1: lo[1], x2: q1[0], y2: q1[1] }, style: { stroke: stroke, lineWidth: 1 } },
            { type: 'line', shape: { x1: hi[0], y1: hi[1], x2: q3[0], y2: q3[1] }, style: { stroke: stroke, lineWidth: 1 } },
            { type: 'rect', shape: { x: xl, y: q3[1], width: xr - xl, height: q1[1] - q3[1] },
              style: { fill: 'rgba(192,192,192,0.6)', stroke: stroke, lineWidth: 1 } },
            { type: 'line', shape: { x1: xl, y1: med[1], x2: xr, y2: med[1] }, style: { stroke: stroke, lineWidth: 1.5 } }
          ]
        };
      }
    });
  });

  // p value brackets
  series.push({
    type: 'custom', xAxisIndex: index, yAxisIndex: index, z: 4, silent: true,
    data: p.brackets.map(b => [b[0], b[1], b[2]]),
    encode: { x: [0, 1], y: 2 },
    renderItem(params, api) {
      let a = api.coord([api.value(0), api.value(2)]);
      let b = api.coord([api.value(1), api.value(2)]);
      let drop = api.coord([api.value(0), api.value(2) - p.tip])[1];
      return {
        type: 'group', children: [
          { type: 'polyline', shape: { points: [[a[0], drop], a, b, [b[0], drop]] }, style: { stroke: '#4D4D4D', lineWidth: 0.8, fill: 'none' } },
          { type: 'text', style: { text: p.brackets[params.dataIndex][3], x: (a[0] + b[0]) / 2, y: a[1] - 1.5,
            textAlign: 'center', textVerticalAlign: 'bottom', fill: '#222', fontSize: p.pFont, fontFamily: FONT } }
        ]
      };
    }
  });
}

panels.forEach(addBoxPanel);

// panel E, survival plot
function addWhitePanel(top, height, yAxis, labelMargin, nameGap) {
  let index = grids.length;
  grids.push({ left: 860, top: top, width: 422.3, height: height, show: true, backgroundColor: '#fff', borderColor: '#7F7F7F', borderWidth: 1 });
  xAxes.push({
    type: 'value', gridIndex: index, min: -1, max: 21,
    name: 'Time (years)', nameLocation: 'middle', nameGap: nameGap,
    nameTextStyle: { color: '#111', fontSize: 11.8, fontFamily: FONT },
    axisLine: { show: false, onZero: false }, axisTick: Object.assign(tickStyle(), { customValues: riskTimes }),
    axisLabel: { customValues: riskTimes, color: '#4D4D4D', fontSize: 9.5, fontFamily: FONT, margin: labelMargin },
    splitLine: { show: true, lineStyle: { color: '#EBEBEB', width: 1 } }
  });
  yAxes.push(Object.assign({ type: 'value', gridIndex: index, axisLine: { show: false, onZero: false } }, yAxis));
  minorLines(index, [1,3,5,7,9,11,13,15,17,19], true, '#F0F0F0', 0.7);
  return index;
}

const survTicks = [0,.25,.5,.75,1];
let survIndex = addWhitePanel(60.3, 312, {
  min: -0.048, max: 1.048,
  name: 'Survival probability', nameLocation: 'middle', nameGap: 28, nameRotate: 90,
  nameTextStyle: { color: '#111', fontSize: 11.8, fontFamily: FONT },
  axisTick: Object.assign(tickStyle(), { customValues: survTicks }),
  axisLabel: { customValues: survTicks, color: '#4D4D4D', fontSize: 9.5, fontFamily: FONT, margin: 4, formatter: v => v.toFixed(2) },
  splitLine: { show: true, lineStyle: { color: '#EBEBEB', width: 1 } }
}, 5, 18);
minorLines(survIndex, [.125,.375,.625,.875], false, '#F0F0F0', 0.7);

function addBand(times, lower, upper, color) {
  series.push({
    type: 'custom', xAxisIndex: survIndex, yAxisIndex: survIndex, z: 2, silent: true,
    data: lower.map((v, i) => [times[i], times[i + 1], v, upper[i]]),
    encode: { x: [0, 1], y: [2, 3] },
    renderItem(params, api) {
      let a = api.coord([api.value(0), api.value(3)]);
      let b = api.coord([api.value(1), api.value(2)]);
      let x0 = Math.round(a[0]), x1 = Math.round(b[0]);
      return { type: 'rect', shape: { x: x0, y: a[1], width: x1 - x0, height: b[1] - a[1] }, style: { fill: withAlpha(color, 0.3) } };
    }
  });
}
addBand(highBandTimes, highBandLower, highBandUpper, HIGH);
addBand(lowBandTimes, lowBandLower, lowBandUpper, LOW);

function addCurve(times, surv, color, dashed) {
  series.push({
    type: 'line', xAxisIndex: survIndex, yAxisIndex: survIndex, z: 3, silent: true,
    step: 'end', showSymbol: false, symbol: 'none',
    lineStyle: { color: color, width: 1.8, type: dashed ? [4, 4] : 'solid' },
    data: times.map((t, i) => [t, surv[i]])
  });
}
addCurve(highTimes, highSurv, HIGH, false);
addCurve(lowTimes, lowSurv, LOW, true);

const PLUS = 'path://M0 5H10M5 0V10';
function addCensor(censor, times, surv, color) {
  series.push({
    type: 'scatter', xAxisIndex: survIndex, yAxisIndex: survIndex, z: 4, silent: true,
    symbol: PLUS, symbolSize: 8,
    itemStyle: { color: 'none', borderColor: color, borderWidth: 1 },
    data: censor.map(t => [t, stepAt(times, surv, t)])
  });
}
addCensor(highCensor, highTimes, highSurv, HIGH);
addCensor(lowCensor, lowTimes, lowSurv, LOW);

// median guides
let guideStyle = { color: '#111', width: 1.2, type: [4, 3.5] };
series.push({
  type: 'line', xAxisIndex: survIndex, yAxisIndex: survIndex, z: 5, silent: true, symbol: 'none',
  lineStyle: guideStyle, data: [[0, .5], [medianTimes[1], .5]]
});
medianTimes.forEach(t => {
  series.push({
    type: 'line', xAxisIndex: survIndex, yAxisIndex: survIndex, z: 5, silent: true, symbol: 'none',
    lineStyle: guideStyle, data: [[t, .5], [t, 0]]
  });
});

// number at risk table
let riskIndex = addWhitePanel(433, 78, {
  min: 0.42, max: 2.58,
  name: 'Strata', nameLocation: 'middle', nameGap: 28, nameRotate: 90,
  nameTextStyle: { color: '#111', fontSize: 11.8, fontFamily: FONT },
  axisTick: Object.assign(tickStyle(), { customValues: [1, 2] }),
  axisLabel: { customValues: [1, 2], fontSize: 9.5, fontFamily: FONT, margin: 4,
    formatter: v => v === 2 ? '{h|High}' : '{l|Low}',
    rich: { h: { color: '#F2C12E', fontSize: 9.5, fontFamily: FONT }, l: { color: '#4AADE6', fontSize: 9.5, fontFamily: FONT } } },
  splitLine: { show: true, lineStyle: { color: '#EBEBEB', width: 1 } }
}, 5, 18);

function addRisk(values, row, color) {
  series.push({
    type: 'scatter', xAxisIndex: riskIndex, yAxisIndex: riskIndex, z: 3, silent: true,
    symbolSize: 0,
    label: { show: true, position: 'inside', color: color, fontSize: 13.5, fontFamily: FONT, textBorderWidth: 0, textBorderColor: 'transparent', formatter: o => String(o.value[2]) },
    data: riskTimes.map((t, i) => [t, row, values[i]])
  });
}
addRisk(riskHigh, 2, '#EFBB12');
addRisk(riskLow, 1, '#2FA3E6');

function letter(text, x, y) {
  return { type: 'text', left: x, top: y, z: 10, style: { text: text, fill: '#000', fontSize: 32, fontWeight: 'bold', fontFamily: FONT } };
}
function plain(text, x, y, size) {
  return { type: 'text', left: x, top: y, z: 10, style: { text: text, fill: '#111', fontSize: size, fontFamily: FONT } };
}

let graphic = [
  letter('A', 47, 10), letter('B', 424, 10), letter('C', 47, 267), letter('D', 424, 267),
  letter('E', 814, 10), letter('F', 13, 556), letter('G', 440, 556), letter('H', 887, 556),
  plain('MRPL13', 866, 24, 14), plain('Strata', 1004, 27, 13), plain('High', 1067, 28, 10), plain('Low', 1119, 28, 10),
  plain('p = 0.048', 887, 296, 15), plain('Number at risk', 860, 413, 14.2),
  // legend keys
  { type: 'rect', z: 10, shape: { x: 1043, y: 24, width: 17, height: 17 }, style: { fill: withAlpha(HIGH, 0.3) } },
  { type: 'rect', z: 10, shape: { x: 1095, y: 24, width: 18, height: 17 }, style: { fill: withAlpha(LOW, 0.3) } },
  { type: 'line', z: 11, shape: { x1: 1044, y1: 32.5, x2: 1059, y2: 32.5 }, style: { stroke: HIGH, lineWidth: 1.8 } },
  { type: 'line', z: 11, shape: { x1: 1051.5, y1: 29, x2: 1051.5, y2: 36 }, style: { stroke: HIGH, lineWidth: 1 } },
  { type: 'line', z: 11, shape: { x1: 1096, y1: 32.5, x2: 1112, y2: 32.5 }, style: { stroke: LOW, lineWidth: 1.8, lineDash: [4, 2] } },
  { type: 'line', z: 11, shape: { x1: 1104, y1: 29, x2: 1104, y2: 36 }, style: { stroke: LOW, lineWidth: 1 } }
];

let chart = echarts.init(document.getElementById('main'));
chart.setOption({
  animation: false,
  backgroundColor: '#fff',
  grid: grids,
  xAxis: xAxes,
  yAxis: yAxes,
  series: series,
  graphic: graphic
});
</script>
</body>
</html>
